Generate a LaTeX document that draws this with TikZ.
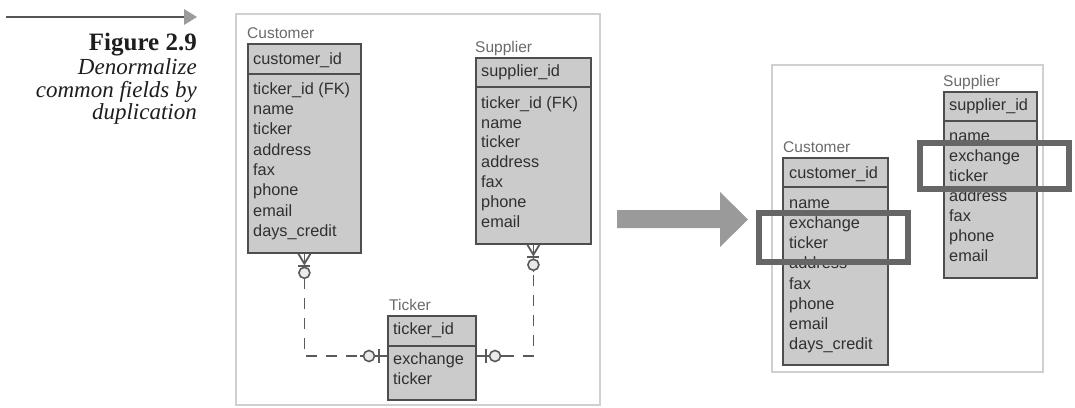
\documentclass[tikz,border=0pt]{standalone}
\usepackage{fontspec}
\newfontfamily\erfont{Liberation Sans}
\newfontfamily\capfont{Liberation Serif}
\definecolor{boxfill}{HTML}{CBCBCB}
\definecolor{boxline}{HTML}{4E4E4E}
\definecolor{fieldtxt}{HTML}{303030}
\definecolor{titletxt}{HTML}{6A6A6A}
\definecolor{framecol}{HTML}{D0D0D0}
\definecolor{markcol}{HTML}{666666}
\definecolor{bigarrow}{HTML}{9A9A9A}
\definecolor{capline}{HTML}{555555}
\definecolor{captip}{HTML}{9C9C9C}
\definecolor{reltone}{HTML}{5A5A5A}
\definecolor{captxt}{HTML}{1E1E1E}

\tikzset{
  ent/.style={draw=boxline, fill=boxfill, line width=1.8pt, inner sep=0pt,
    anchor=north west},
  entsep/.style={draw=boxline, line width=1.8pt},
  fld/.style={font=\erfont\fontsize{16.3}{19}\selectfont, text=fieldtxt,
    anchor=west, inner sep=0pt, text height=12pt, text depth=3.5pt},
  ttl/.style={font=\erfont\fontsize{15.5}{18}\selectfont, text=titletxt,
    anchor=base west, inner sep=0pt},
  panel/.style={draw=framecol, line width=1.8pt},
  relsolid/.style={draw=reltone, line width=1.8pt},
  reldash/.style={draw=reltone, line width=1.8pt, dash pattern=on 11pt off 9pt},
  relmark/.style={draw=reltone, line width=1.6pt, fill=boxfill!40},
  hilite/.style={draw=markcol, line width=6.5pt},
  capbold/.style={font=\capfont\bfseries\fontsize{25}{26}\selectfont, text=captxt,
    anchor=base east, inner sep=0pt},
  capital/.style={font=\capfont\itshape\fontsize{23}{24}\selectfont,
    text=captxt, anchor=base east, inner sep=0pt},
}

% entity box: name, left x, top y, width, height, header height
\newcommand\erbox[6]{%
  \node[ent, minimum width=#4pt, minimum height=#5pt] (#1) at (#2,#3) {};
  \draw[entsep] ([yshift=-#6pt]#1.north west) -- ([yshift=-#6pt]#1.north east);
}

\begin{document}
\begin{tikzpicture}[x=1pt,y=-1pt]
\useasboundingbox (0,0) rectangle (1075,407);

% ---- caption ----
\coordinate (capA) at (6,17);
\coordinate (capB) at (186,17);
\draw[draw=capline, line width=1.5pt] (capA) -- (capB);
\fill[captip] (184,9) -- (197,17) -- (184,25) -- cycle;
\node[capbold] (figno) at (197,50) {Figure 2.9};
\node[capital] (cap1) at (197,74) {Denormalize};
\node[capital] (cap2) at (197,97) {common fields by};
\node[capital] (cap3) at (197,119) {duplication};

% ---- normalized model ----
\draw[panel] (236,14) rectangle (600,405);

% Customer
\node[ttl] (lcT) at (247,38) {Customer};
\erbox{lcust}{247}{43}{113}{209}{31}
\node[fld] (lcH) at (253,60) {customer\_id};
\foreach \t [count=\i from 0] in {ticker\_id (FK),name,ticker,address,fax,phone,email,days\_credit}
  \node[fld] (lc\i) at (253,90+20.3*\i) {\t};

% Supplier
\node[ttl] (lsT) at (475,52) {Supplier};
\erbox{lsup}{475}{57}{115}{186}{30}
\node[fld] (lsH) at (481,72) {supplier\_id};
\foreach \t [count=\i from 0] in {ticker\_id (FK),name,ticker,address,fax,phone,email}
  \node[fld] (ls\i) at (481,104+19.8*\i) {\t};

% Ticker
\node[ttl] (ltT) at (389,310) {Ticker};
\erbox{ltick}{387}{315}{88}{84}{31}
\node[fld] (ltH) at (393,330) {ticker\_id};
\node[fld] (lt0) at (393,360) {exchange};
\node[fld] (lt1) at (393,380) {ticker};

% Customer -- Ticker relationship
\coordinate (cfoot) at (lcust.south |- 0,278);
\coordinate (tkL) at (360,356);
\draw[relsolid] (lcust.south) -- (cfoot);
\draw[relsolid] ([xshift=-6pt]lcust.south) -- ([yshift=-10pt]lcust.south)
                -- ([xshift=6pt]lcust.south);
\draw[relsolid] ([xshift=-6pt,yshift=-12pt]lcust.south) -- ([xshift=6pt,yshift=-12pt]lcust.south);
\draw[relmark] ([yshift=-19pt]lcust.south) circle (5.5pt);
\draw[reldash] (cfoot) |- (tkL);
\draw[relsolid] (tkL) -- (ltick.west |- tkL);
\draw[relmark] (369,356) circle (5.5pt);
\draw[relsolid] (379,349) -- (379,363);

% Ticker -- Supplier relationship
\coordinate (tkR) at (503,356);
\coordinate (sfoot) at (lsup.south |- 0,272);
\draw[relsolid] (ltick.east |- tkR) -- (tkR);
\draw[relsolid] (486,349) -- (486,363);
\draw[relmark] (495,356) circle (5.5pt);
\draw[reldash] (tkR) -| (sfoot);
\draw[relsolid] (sfoot) -- (lsup.south);
\draw[relsolid] ([xshift=-6pt]lsup.south) -- ([yshift=-10pt]lsup.south)
                -- ([xshift=6pt]lsup.south);
\draw[relsolid] ([xshift=-6pt,yshift=-12pt]lsup.south) -- ([xshift=6pt,yshift=-12pt]lsup.south);
\draw[relmark] ([yshift=-20pt]lsup.south) circle (5.5pt);

% ---- transformation arrow ----
\fill[bigarrow] (617,210) -- (720,210) -- (720,192) -- (748,219.5)
   -- (720,247) -- (720,228) -- (617,228) -- cycle;

% ---- denormalized model ----
\draw[panel] (772,65) rectangle (1043,372);

% Customer
\node[ttl] (rcT) at (783,152) {Customer};
\erbox{rcust}{782}{157}{105}{207}{30}
\node[fld] (rcH) at (789,174) {customer\_id};
\foreach \t [count=\i from 0] in {name,exchange,ticker,address,fax,phone,email,days\_credit}
  \node[fld] (rc\i) at (789,204+20.2*\i) {\t};

% Supplier
\node[ttl] (rsT) at (943,86) {Supplier};
\erbox{rsup}{943}{91}{93}{186}{30}
\node[fld] (rsH) at (949,106) {supplier\_id};
\foreach \t [count=\i from 0] in {name,exchange,ticker,address,fax,phone,email}
  \node[fld] (rs\i) at (949,137+20.1*\i) {\t};

% duplicated fields
\draw[hilite] (759,213) rectangle (908,262);
\draw[hilite] (920,143) rectangle (1069,189);
\end{tikzpicture}
\end{document}
